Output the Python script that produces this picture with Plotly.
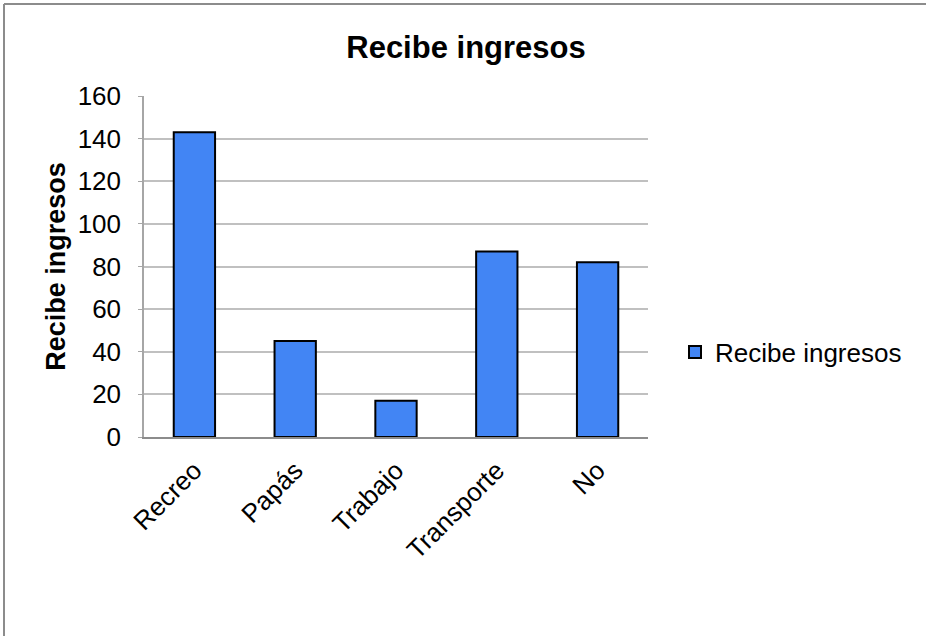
import plotly.graph_objects as go

categories = ["Recreo", "Papás", "Trabajo", "Transporte", "No"]
values = [143, 45, 17, 87, 82]
series_name = "Recibe ingresos"
y_ticks = [0, 20, 40, 60, 80, 100, 120, 140, 160]

W, H = 926, 636
L, R, T, B = 144, 278, 96, 199
pw, ph = W - L - R, H - T - B

def px_x(px):
    return (px - L) / pw

def px_y(py):
    return (H - B - py) / ph

FONT = "Liberation Sans, Arial, sans-serif"

fig = go.Figure()
fig.add_trace(go.Bar(
    x=categories, y=values, name=series_name,
    marker=dict(color="#4285F4", line=dict(color="#000000", width=2)),
    showlegend=True,
))

fig.update_layout(
    width=W, height=H,
    margin=dict(l=L, r=R, t=T, b=B, autoexpand=False),
    paper_bgcolor="white", plot_bgcolor="white",
    bargap=0.59,
    font=dict(family=FONT, color="#000000"),
    title=dict(text="<b>Recibe ingresos</b>", x=px_x(466), xref="paper", xanchor="center",
               y=1 - 47 / H, yanchor="middle", font=dict(size=31, family=FONT)),
    xaxis=dict(
        type="category", tickangle=-45, tickfont=dict(size=26),
        showline=True, linecolor="#8c8c8c", linewidth=2,
        showgrid=False, ticks="", ticklen=0, ticklabelstandoff=6,
    ),
    yaxis=dict(
        range=[0, 160], tickvals=y_ticks, tickfont=dict(size=26),
        showline=True, linecolor="#a6a6a6", linewidth=1.5,
        showgrid=True, gridcolor="#c0c0c0", gridwidth=1.5,
        ticks="outside", ticklen=4, tickcolor="#a6a6a6",
        ticklabelstandoff=12,
        zeroline=False,
        title=dict(text="<b>Recibe ingresos</b>", font=dict(size=27), standoff=4),
    ),
    legend=dict(x=px_x(675), y=px_y(352), xanchor="left", yanchor="middle",
                font=dict(size=26), itemwidth=30, bgcolor="rgba(0,0,0,0)"),
    shapes=[
        dict(type="line", xref="paper", yref="paper", x0=px_x(4), x1=px_x(930),
             y0=px_y(4), y1=px_y(4), line=dict(color="#8c8c8c", width=2)),
        dict(type="line", xref="paper", yref="paper", x0=px_x(4), x1=px_x(4),
             y0=px_y(4), y1=px_y(640), line=dict(color="#8c8c8c", width=2)),
    ],
)

fig.write_html("out.html")
